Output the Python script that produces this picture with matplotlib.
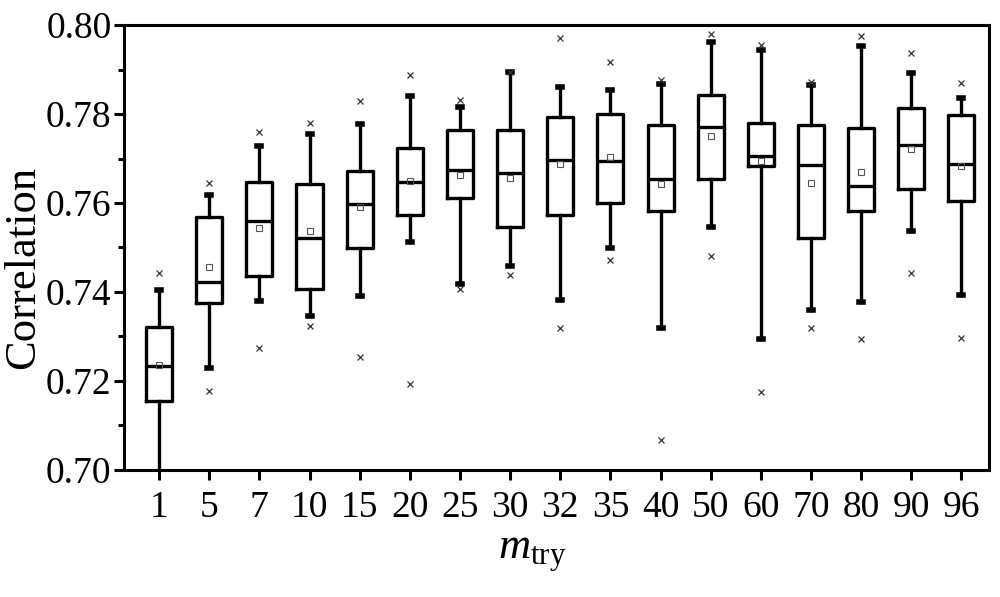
import matplotlib
matplotlib.use("Agg")
import matplotlib.pyplot as plt
from matplotlib.ticker import MultipleLocator, FormatStrFormatter

plt.rcParams['font.family'] = ['Liberation Serif', 'DejaVu Serif']
plt.rcParams['mathtext.fontset'] = 'custom'
plt.rcParams['mathtext.rm'] = 'Liberation Serif'
plt.rcParams['mathtext.it'] = 'Liberation Serif:italic'

labels = ['1', '5', '7', '10', '15', '20', '25', '30', '32', '35', '40', '50', '60', '70', '80', '90', '96']
q1 = [0.7155, 0.7376, 0.7436, 0.7407, 0.7498, 0.7573, 0.7612, 0.7545, 0.7573, 0.7599, 0.7582, 0.7654, 0.7684, 0.7522, 0.7582, 0.7631, 0.7604]
med = [0.7234, 0.7422, 0.7560, 0.7522, 0.7598, 0.7648, 0.7674, 0.7667, 0.7697, 0.7695, 0.7654, 0.7771, 0.7706, 0.7685, 0.7639, 0.7730, 0.7688]
q3 = [0.7322, 0.7568, 0.7648, 0.7642, 0.7673, 0.7723, 0.7764, 0.7763, 0.7794, 0.7799, 0.7775, 0.7843, 0.7780, 0.7775, 0.7769, 0.7814, 0.7798]
wlo = [0.6950, 0.7230, 0.7380, 0.7345, 0.7391, 0.7513, 0.7418, 0.7458, 0.7382, 0.7498, 0.7320, 0.7545, 0.7294, 0.7360, 0.7378, 0.7537, 0.7393]
whi = [0.7404, 0.7618, 0.7728, 0.7754, 0.7778, 0.7840, 0.7815, 0.7895, 0.7861, 0.7854, 0.7867, 0.7961, 0.7944, 0.7865, 0.7954, 0.7893, 0.7837]
means = [0.7236, 0.7455, 0.7543, 0.7537, 0.7592, 0.7649, 0.7664, 0.7657, 0.7687, 0.7704, 0.7643, 0.7751, 0.7695, 0.7646, 0.7669, 0.7721, 0.7684]
mins = [0.6900, 0.7178, 0.7275, 0.7324, 0.7253, 0.7193, 0.7406, 0.7437, 0.7320, 0.7472, 0.7066, 0.7481, 0.7176, 0.7318, 0.7294, 0.7443, 0.7297]
maxs = [0.7442, 0.7646, 0.7760, 0.7779, 0.7830, 0.7888, 0.7831, 0.7895, 0.7970, 0.7918, 0.7876, 0.7980, 0.7955, 0.7873, 0.7976, 0.7938, 0.7869]

stats = []
for i in range(len(labels)):
    stats.append(dict(q1=q1[i], med=med[i], q3=q3[i], whislo=wlo[i], whishi=whi[i],
                      mean=means[i], fliers=[]))

fig = plt.figure(figsize=(10, 5.97), dpi=100)
ax = fig.add_axes([0.124, 0.213, 0.865, 0.745])

pos = list(range(len(labels)))
lw = 2.4
ax.bxp(stats, positions=pos, widths=0.52, showmeans=True, showfliers=False,
       capwidths=0.08,
       boxprops=dict(color='black', linewidth=lw),
       medianprops=dict(color='black', linewidth=lw),
       whiskerprops=dict(color='black', linewidth=lw),
       capprops=dict(color='black', linewidth=4),
       meanprops=dict(marker='s', markerfacecolor='none', markeredgecolor='#555555',
                      markersize=5, markeredgewidth=0.8))
ax.plot(pos, mins, 'x', color='#333333', markersize=5, markeredgewidth=0.9)
ax.plot(pos, maxs, 'x', color='#333333', markersize=5, markeredgewidth=0.9)

ax.set_xlim(-0.7, 16.55)
ax.set_ylim(0.70, 0.80)
ax.set_xticks(pos)
ax.set_xticklabels(labels)
ax.yaxis.set_major_locator(MultipleLocator(0.02))
ax.yaxis.set_minor_locator(MultipleLocator(0.01))
ax.yaxis.set_major_formatter(FormatStrFormatter('%.2f'))

for s in ax.spines.values():
    s.set_linewidth(2.2)
ax.tick_params(axis='both', which='major', direction='out', length=7, width=2.2,
               labelsize=27, top=False, right=False)
ax.tick_params(axis='x', which='major', pad=8)
ax.tick_params(axis='y', which='major', pad=2)
ax.tick_params(axis='y', which='minor', direction='out', length=4.5, width=2.2, right=False)

ax.set_ylabel('Correlation', fontsize=32)
ax.yaxis.set_label_coords(-0.093, 0.456)
ax.set_xlabel(r'$m_{\mathrm{try}}$', fontsize=32)
ax.xaxis.set_label_coords(0.472, -0.145)

fig.savefig('out.png', dpi=100)
